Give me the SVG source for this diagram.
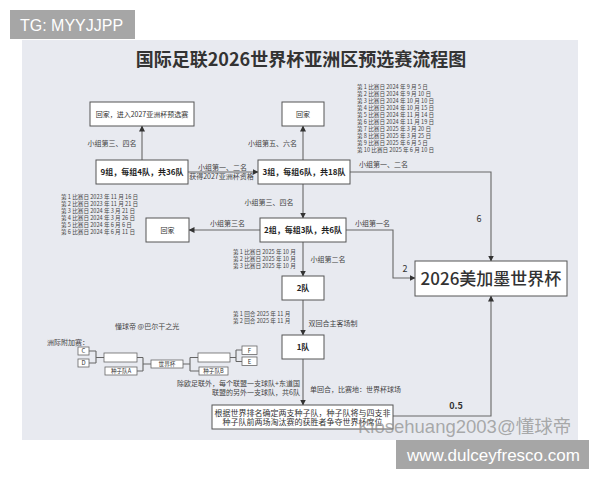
<svg xmlns="http://www.w3.org/2000/svg" width="600" height="480" viewBox="0 0 600 480">
<defs>
<marker id="ah" markerWidth="6" markerHeight="6" refX="5.5" refY="3" orient="auto" markerUnits="userSpaceOnUse">
<path d="M0,0 L6,3 L0,6 Z" fill="#333"/>
</marker>
<style>
.bx{fill:#fff;stroke:#555;stroke-width:1}
.sb{fill:#fff;stroke:#666;stroke-width:0.8}
.ln{fill:none;stroke:#666;stroke-width:1.1}
.ar{fill:none;stroke:#666;stroke-width:1.1;marker-end:url(#ah)}
.t{font-family:"Noto Sans CJK SC","Noto Sans",sans-serif;fill:#333}
.nb{font-size:8px;font-weight:bold;text-anchor:middle;fill:#222}
.nn{font-size:7px;text-anchor:middle}
.lb{font-size:7px;fill:#444}
.dt{font-size:5.6px;fill:#444}
.c{text-anchor:middle}
.e{text-anchor:end}
</style>
</defs>
<rect x="0" y="0" width="600" height="480" fill="#fff"/>
<rect x="22" y="40" width="556" height="400" fill="#e8eaf0"/>
<text class="t" x="301" y="66" font-size="18" font-weight="bold" text-anchor="middle" fill="#222">国际足联2026世界杯亚洲区预选赛流程图</text>

<g id="connectors">
<path class="ar" d="M142,160 V126"/>
<path class="ar" d="M188,172 H258"/>
<path class="ar" d="M303,160 V126"/>
<path class="ar" d="M303,184 V218"/>
<path class="ar" d="M350,172 H491 V261"/>
<path class="ar" d="M260,230 H189"/>
<path class="ar" d="M346,230 H393 V278 H415"/>
<path class="ar" d="M303,242 V276"/>
<path class="ar" d="M303,300 V335"/>
<path class="ar" d="M303,359 V405"/>
<path class="ar" d="M393,416 H491 V296"/>
</g>

<g id="n_home1"><rect class="bx" x="90" y="102" width="104" height="24"/><text class="t nn" x="142" y="116.5">回家，进入2027亚洲杯预选赛</text></g>
<g id="n_home2"><rect class="bx" x="282" y="102" width="42" height="24"/><text class="t nn" x="303" y="116.5">回家</text></g>
<g id="n_g9"><rect class="bx" x="96" y="160" width="92" height="24"/><text class="t nb" x="142" y="175">9组，每组4队，共36队</text></g>
<g id="n_g3"><rect class="bx" x="258" y="160" width="92" height="24"/><text class="t nb" x="304" y="175">3组，每组6队，共18队</text></g>
<g id="n_home3"><rect class="bx" x="146" y="218" width="43" height="24"/><text class="t nn" x="167.5" y="232.5">回家</text></g>
<g id="n_g2"><rect class="bx" x="260" y="218" width="86" height="24"/><text class="t nb" x="303" y="233">2组，每组3队，共6队</text></g>
<g id="n_wc"><rect class="bx" x="415" y="261" width="152" height="35"/><text class="t" x="491" y="285" font-size="17" font-weight="500" text-anchor="middle" fill="#111">2026美加墨世界杯</text></g>
<g id="n_2"><rect class="bx" x="282" y="276" width="42" height="24"/><text class="t nb" x="303" y="291">2队</text></g>
<g id="n_1"><rect class="bx" x="282" y="335" width="42" height="24"/><text class="t nb" x="303" y="350">1队</text></g>
<g id="n_final"><rect class="bx" x="212" y="405" width="181" height="24"/>
<text class="t" x="302.5" y="415.5" font-size="8" text-anchor="middle" fill="#222">根据世界排名确定两支种子队，种子队将与四支非</text>
<text class="t" x="302.5" y="424.8" font-size="8" text-anchor="middle" fill="#222">种子队前两场淘汰赛的获胜者争夺世界杯席位</text></g>

<g id="labels">
<text class="t lb c" x="112" y="145.5" font-size="7.3">小组第三、四名</text>
<text class="t lb c" x="222.5" y="169.5" font-size="6.8">小组第一、二名</text>
<text class="t lb c" x="221.5" y="178.5" font-size="6.6">获得2027亚洲杯资格</text>
<text class="t lb c" x="272.5" y="145.5" font-size="7.3">小组第五、六名</text>
<text class="t lb c" x="269" y="204.5">小组第三、四名</text>
<text class="t lb c" x="383.5" y="166.5" font-size="6.8">小组第一、二名</text>
<text class="t c" x="479" y="221.5" font-size="9" fill="#222">6</text>
<text class="t lb c" x="227.5" y="225.5" font-size="6.5">小组第三名</text>
<text class="t lb c" x="372.5" y="225.5" font-size="6.7">小组第一名</text>
<text class="t c" x="405" y="272" font-size="9" fill="#222">2</text>
<text class="t lb c" x="328" y="261.5">小组第二名</text>
<text class="t lb c" x="333" y="325.5">双回合主客场制</text>
<text class="t lb" x="310" y="391.5" font-size="6.8">单回合，比赛地：世界杯球场</text>
<text class="t lb e" x="300" y="386">除欧足联外，每个联盟一支球队+东道国</text>
<text class="t lb e" x="300" y="395">联盟的另外一支球队，共6队</text>
<text class="t c" x="456" y="408.5" font-size="9" font-weight="bold" fill="#222">0.5</text>
<text class="t lb" x="115" y="328.5">懂球帝 @巴尔干之光</text>
</g>

<g id="dates">
<text class="t dt" x="357" y="89.3">第 1 比赛日 2024 年 9 月 5 日</text>
<text class="t dt" x="357" y="96.3">第 2 比赛日 2024 年 9 月 10 日</text>
<text class="t dt" x="357" y="103.2">第 3 比赛日 2024 年 10 月 10 日</text>
<text class="t dt" x="357" y="110.2">第 4 比赛日 2024 年 10 月 15 日</text>
<text class="t dt" x="357" y="117.2">第 5 比赛日 2024 年 11 月 14 日</text>
<text class="t dt" x="357" y="124.1">第 6 比赛日 2024 年 11 月 19 日</text>
<text class="t dt" x="357" y="131.1">第 7 比赛日 2025 年 3 月 20 日</text>
<text class="t dt" x="357" y="138.1">第 8 比赛日 2025 年 3 月 25 日</text>
<text class="t dt" x="357" y="145.1">第 9 比赛日 2025 年 6 月 5 日</text>
<text class="t dt" x="357" y="152">第 10 比赛日 2025 年 6 月 10 日</text>
<text class="t dt" x="61" y="199.3">第 1 比赛日 2023 年 11 月 16 日</text>
<text class="t dt" x="61" y="206.3">第 2 比赛日 2023 年 11 月 21 日</text>
<text class="t dt" x="61" y="213.3">第 3 比赛日 2024 年 3 月 21 日</text>
<text class="t dt" x="61" y="220.3">第 4 比赛日 2024 年 3 月 26 日</text>
<text class="t dt" x="61" y="227.3">第 5 比赛日 2024 年 6 月 6 日</text>
<text class="t dt" x="61" y="234.3">第 6 比赛日 2024 年 6 月 11 日</text>
<text class="t dt" x="233" y="254">第 1 比赛日 2025 年 10 月</text>
<text class="t dt" x="233" y="261">第 2 比赛日 2025 年 10 月</text>
<text class="t dt" x="233" y="268">第 3 比赛日 2025 年 10 月</text>
<text class="t dt" x="233" y="316">第 1 回合 2025 年 11 月</text>
<text class="t dt" x="233" y="323">第 2 回合 2025 年 11 月</text>
</g>

<g id="playoff">
<text class="t lb" x="47" y="344.5" font-size="6.8">洲际附加赛：</text>
<path class="ln" d="M89,351 H96 M89,363 H96 M96,351 V363 M96,357.5 H104 M137,357.5 H143 M137,371 H143 M143,357.5 V371 M143,364 H151 M183,364 H190 M190,357.5 V371 M190,357.5 H198 M190,371 H199 M230,357.5 H236 M236,350 V361.5 M236,350 H242 M236,361.5 H242" stroke-width="0.9"/>
<g id="p_c"><rect class="sb" x="78" y="347" width="11" height="8"/><text class="t c" x="83.5" y="353.3" font-size="6">C</text></g>
<g id="p_d"><rect class="sb" x="78" y="359" width="11" height="8"/><text class="t c" x="83.5" y="365.3" font-size="6">D</text></g>
<g id="p_w1"><rect class="sb" x="104" y="353" width="33" height="9"/></g>
<g id="p_sa"><rect class="sb" x="105" y="367" width="32" height="8"/><text class="t c" x="121" y="373.3" font-size="5.6">种子队A</text></g>
<g id="p_wc"><rect class="sb" x="151" y="360" width="32" height="8"/><text class="t c" x="167" y="366.3" font-size="5.6">世界杯</text></g>
<g id="p_w2"><rect class="sb" x="198" y="353" width="32" height="9"/></g>
<g id="p_sb"><rect class="sb" x="199" y="367" width="29" height="8"/><text class="t c" x="213.5" y="373.3" font-size="5.6">种子队B</text></g>
<g id="p_f"><rect class="sb" x="242" y="346" width="15" height="8.5"/><text class="t c" x="249.5" y="352.6" font-size="6">F</text></g>
<g id="p_e"><rect class="sb" x="242" y="357" width="15" height="8.5"/><text class="t c" x="249.5" y="363.6" font-size="6">E</text></g>
</g>

<text x="358" y="432.5" font-family="Liberation Sans,'Noto Sans CJK SC',sans-serif" font-size="18.5" fill="#8a8a8a" fill-opacity="0.7">Kiosehuang2003@懂球帝</text>
<rect x="10" y="10" width="125" height="29" fill="#a6a6a6"/>
<text x="20" y="31" font-family="Liberation Sans,sans-serif" font-size="16" fill="#fff">TG: MYYJJPP</text>
<rect x="396" y="440" width="193" height="29" fill="#a6a6a6"/>
<text x="407" y="460.5" font-family="Liberation Sans,sans-serif" font-size="17" fill="#fff">www.dulceyfresco.com</text>
</svg>
